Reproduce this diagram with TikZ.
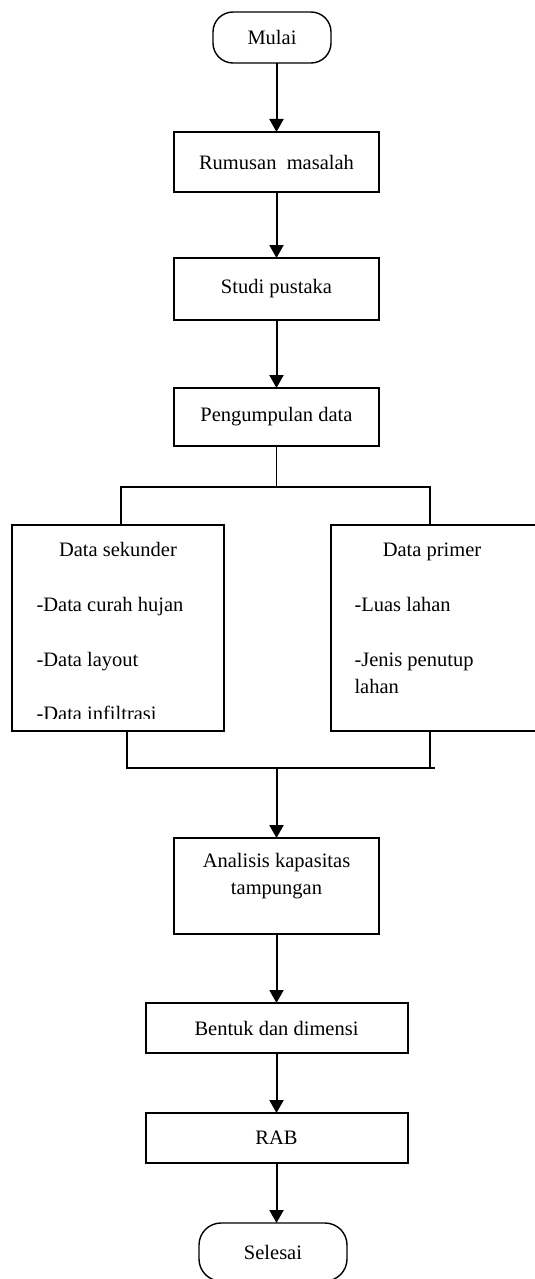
\documentclass[tikz,border=0pt]{standalone}
\usepackage{fontspec}
\setmainfont{Liberation Serif}
\usetikzlibrary{positioning, arrows.meta}

\begin{document}
\begin{tikzpicture}[
    x=1pt, y=-1pt,
    >={Triangle[length=13pt, width=14pt]},
    every node/.style={font=\fontsize{20.5}{27}\selectfont},
    terminal/.style={draw, line width=1.4pt, rounded corners=20pt, outer sep=0pt,
                     minimum width=118pt, minimum height=51pt},
    process/.style={draw, line width=2pt, minimum width=205pt, outer sep=0pt,
                    minimum height=60pt, align=center},
    databox/.style={draw, line width=2pt, minimum width=212pt, outer sep=0pt,
                    minimum height=206pt},
    item/.style={anchor=base west},
    flow/.style={->, line width=2pt},
    branch/.style={line width=1.3pt}
]
\useasboundingbox (0,0) rectangle (535,1279);

% --- Alur utama ---
\node[terminal] (mulai) at (272,37.5) {Mulai};
\node[process, below=69pt of mulai, xshift=4.5pt] (rumusan) {Rumusan\ \ masalah};
\node[process, below=66pt of rumusan, minimum height=62pt] (studi) {Studi pustaka};
\node[process, below=68pt of studi, minimum height=58pt] (kumpul) {Pengumpulan data};

% --- Data sekunder / primer ---
\node[databox, below=79pt of kumpul, xshift=-158.5pt] (sekunder) {};
\node[databox, below=79pt of kumpul, xshift=161.5pt, minimum width=214pt] (primer) {};

\node[anchor=base] (sekjudul) at ([yshift=-31pt]sekunder.north) {Data sekunder};
\node[item] (sek1) at ([xshift=21pt, yshift=-86pt]sekunder.north west) {-Data curah hujan};
\node[item] (sek2) at ([xshift=21pt, yshift=-141pt]sekunder.north west) {-Data layout};
\begin{scope}
    \clip (sekunder.north west) rectangle ([yshift=13pt]sekunder.south east);
    \node[item] (sek3) at ([xshift=21pt, yshift=-195pt]sekunder.north west) {-Data infiltrasi};
\end{scope}

\node[anchor=base] (prijudul) at ([xshift=-6pt, yshift=-31pt]primer.north) {Data primer};
\node[item] (pri1) at ([xshift=20pt, yshift=-86pt]primer.north west) {-Luas lahan};
\node[item] (pri2) at ([xshift=20pt, yshift=-141pt]primer.north west) {-Jenis penutup};
\node[item] (pri3) at ([xshift=20pt, yshift=-168pt]primer.north west) {lahan};

% --- Analisis sampai selesai ---
\node[process, minimum height=96pt, text depth=25pt] (analisis) at (276.5,886)
    {Analisis kapasitas\\tampungan};
\node[process, below=69pt of analisis, minimum width=262pt, minimum height=50pt] (bentuk)
    {Bentuk dan dimensi};
\node[process, below=60pt of bentuk, minimum width=262pt, minimum height=50pt] (rab) {RAB};
\node[terminal, below=60pt of rab, xshift=-3.5pt, minimum width=148pt,
      minimum height=58pt, rounded corners=22pt] (selesai) {Selesai};

% --- Titik cabang ---
\coordinate (cabangL) at (121,487);
\coordinate (cabangR) at (430,487);
\coordinate (gabungL) at (127,768);
\coordinate (gabungR) at (430,768);

% --- Garis dan panah ---
\draw[flow] (mulai.south -| rumusan.north) -- (rumusan.north);
\draw[flow] (rumusan) -- (studi);
\draw[flow] (studi) -- (kumpul);
\draw[branch] (kumpul.south) -- (kumpul.south |- cabangL);
\draw[branch] (sekunder.north -| cabangL) |- (cabangR) -- (cabangR |- primer.north);
\draw[branch] (sekunder.south -| gabungL) |- (gabungR) -- ++(5,0);
\draw[branch] (primer.south -| gabungR) -- (gabungR);
\draw[flow] (analisis.north |- gabungL) -- (analisis.north);
\draw[flow] (analisis) -- (bentuk);
\draw[flow] (bentuk) -- (rab);
\draw[flow] (rab.south) -- (rab.south |- selesai.north);

\end{tikzpicture}
\end{document}
